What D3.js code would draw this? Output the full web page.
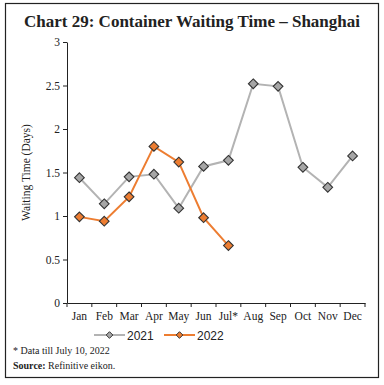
<!DOCTYPE html>
<html>
<head>
<meta charset="utf-8">
<script src="https://cdn.jsdelivr.net/npm/d3@7"></script>
<style>
  body { margin: 0; background: #fff; }
</style>
</head>
<body>
<script>
// data
const months = ['Jan', 'Feb', 'Mar', 'Apr', 'May', 'Jun', 'Jul*', 'Aug', 'Sep', 'Oct', 'Nov', 'Dec'];
const wait2021 = [1.44, 1.14, 1.45, 1.48, 1.09, 1.57, 1.64, 2.52, 2.49, 1.56, 1.33, 1.69];
const wait2022 = [0.99, 0.94, 1.22, 1.80, 1.62, 0.98, 0.66];
const yTicks = [0, 0.5, 1, 1.5, 2, 2.5, 3];

const width = 384;
const height = 385;
const margin = { top: 42, right: 19, bottom: 82, left: 67 };

const serif = "'Liberation Serif', 'DejaVu Serif', serif";
const sans = "'Liberation Sans', Arial, sans-serif";

const series = [
  { name: '2021', values: wait2021, line: '#b3b3b3', fill: '#a6a6a6' },
  { name: '2022', values: wait2022, line: '#ed7d31', fill: '#ed7d31' }
];

const svg = d3.select('body')
  .append('svg')
  .attr('width', width)
  .attr('height', height);

// outer frame
svg.append('rect')
  .attr('x', 5.5).attr('y', 3.5)
  .attr('width', 373).attr('height', 374)
  .attr('fill', 'none')
  .attr('stroke', '#222')
  .attr('stroke-width', 1.2);

svg.append('text')
  .attr('x', 192)
  .attr('y', 27)
  .attr('text-anchor', 'middle')
  .attr('font-family', serif)
  .attr('font-weight', 'bold')
  .attr('font-size', '17px')
  .attr('fill', '#222')
  .text('Chart 29:  Container Waiting Time \u2013 Shanghai');

const x = d3.scaleBand()
  .domain(months)
  .range([margin.left, width - margin.right]);

const y = d3.scaleLinear()
  .domain([0, 3])
  .range([height - margin.bottom, margin.top]);

// y axis
const yAxis = svg.append('g')
  .attr('transform', `translate(${margin.left},0)`)
  .call(d3.axisLeft(y).tickValues(yTicks).tickSize(4).tickSizeOuter(0).tickFormat(d3.format('')));

// x axis
const xAxis = svg.append('g')
  .attr('transform', `translate(0,${y(0)})`)
  .call(d3.axisBottom(x).tickSize(0).tickSizeOuter(0));

xAxis.selectAll('.boundary')
  .data(d3.range(months.length + 1))
  .enter()
  .append('line')
  .attr('x1', i => margin.left + i * x.step())
  .attr('x2', i => margin.left + i * x.step())
  .attr('y1', 0)
  .attr('y2', 4)
  .attr('stroke', '#222');

[yAxis, xAxis].forEach(g => {
  g.select('.domain').attr('stroke', '#222');
  g.selectAll('.tick line').attr('stroke', '#222');
  g.selectAll('text')
    .attr('font-family', serif)
    .attr('font-size', '11.5px')
    .attr('fill', '#222');
});
xAxis.selectAll('.tick text').attr('dy', '1.25em');

svg.append('text')
  .attr('transform', `translate(30,${y(1.5)}) rotate(-90)`)
  .attr('text-anchor', 'middle')
  .attr('font-family', serif)
  .attr('font-size', '11.5px')
  .attr('fill', '#222')
  .text('Waiting Time (Days)');

const line = d3.line()
  .x((d, i) => x(months[i]) + x.bandwidth() / 2)
  .y(d => y(d));

const diamond = d3.symbol().type(d3.symbolDiamond2).size(60);

series.forEach(s => {
  svg.append('path')
    .datum(s.values)
    .attr('d', line)
    .attr('fill', 'none')
    .attr('stroke', s.line)
    .attr('stroke-width', 2);

  svg.selectAll(null)
    .data(s.values)
    .enter()
    .append('path')
    .attr('d', diamond)
    .attr('transform', (d, i) => `translate(${x(months[i]) + x.bandwidth() / 2},${y(d)})`)
    .attr('fill', s.fill)
    .attr('stroke', '#333')
    .attr('stroke-width', 1.1);
});

// legend
const legend = svg.append('g').attr('transform', 'translate(94,335)');
series.forEach((s, i) => {
  const g = legend.append('g').attr('transform', `translate(${i * 70},0)`);
  g.append('line')
    .attr('x1', 0).attr('x2', 31)
    .attr('stroke', s.line)
    .attr('stroke-width', 2);
  g.append('path')
    .attr('d', d3.symbol().type(d3.symbolDiamond2).size(28))
    .attr('transform', 'translate(15.5,0)')
    .attr('fill', s.fill)
    .attr('stroke', '#333')
    .attr('stroke-width', 1);
  g.append('text')
    .attr('x', 33)
    .attr('y', 4.5)
    .attr('font-family', sans)
    .attr('font-size', '12px')
    .attr('fill', '#222')
    .text(s.name);
});

svg.append('text')
  .attr('x', 13)
  .attr('y', 354)
  .attr('font-family', serif)
  .attr('font-size', '10px')
  .attr('fill', '#222')
  .text('* Data till July 10, 2022');

const src = svg.append('text')
  .attr('x', 13)
  .attr('y', 369)
  .attr('font-family', serif)
  .attr('font-size', '10px')
  .attr('fill', '#222');
src.append('tspan').attr('font-weight', 'bold').text('Source:');
src.append('tspan').text(' Refinitive eikon.');
</script>
</body>
</html>
